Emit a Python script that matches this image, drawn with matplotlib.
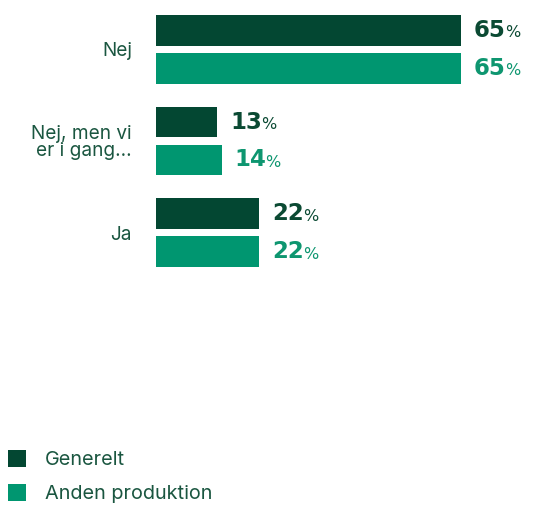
import matplotlib
matplotlib.use("Agg")
import matplotlib.pyplot as plt
import numpy as np

categories = ["Nej", "Nej, men vi\ner i gang...", "Ja"]
series_names = ["Generelt", "Anden produktion"]
generelt = [65, 13, 22]
anden = [65, 14, 22]

bar_colors = ["#034732", "#009670"]
label_colors = ["#0b4a33", "#0e9670"]
text_color = "#1a5640"

W, H = 541, 505
fig = plt.figure(figsize=(W / 100, H / 100), dpi=100)
ax = fig.add_axes([156 / W, 1 - 280 / H, 1 - 156 / W, 280 / H])

y = np.arange(len(categories))
bh = 0.335
off = 0.207
bars1 = ax.barh(y - off, generelt, height=bh, color=bar_colors[0], label=series_names[0])
bars2 = ax.barh(y + off, anden, height=bh, color=bar_colors[1], label=series_names[1])

ax.set_xlim(0, 385 / 4.69)
ax.set_ylim(2.516, -0.538)
for s in ax.spines.values():
    s.set_visible(False)
ax.set_xticks([])
ax.set_yticks(y)
ax.set_yticklabels(categories, fontfamily="Inter", fontsize=13.7, color=text_color,
                   linespacing=0.9)
ax.tick_params(axis="y", length=0, pad=17.3)

for bars, vals, col in [(bars1, generelt, label_colors[0]), (bars2, anden, label_colors[1])]:
    for b, v in zip(bars, vals):
        yc = b.get_y() + b.get_height() / 2
        t = ax.annotate(f"{v}", xy=(v, yc), xytext=(13, 0), textcoords="offset pixels",
                        ha="left", va="center", fontsize=16.5, fontweight="bold",
                        color=col, fontfamily="DejaVu Sans")
        ax.annotate("%", xy=(1, 0), xycoords=t, xytext=(-1, 1.5), textcoords="offset pixels",
                    ha="left", va="bottom", fontsize=11.5, color=col,
                    fontfamily="DejaVu Sans")

leg = fig.legend(handles=[bars1, bars2], labels=series_names, loc="upper left",
                 bbox_to_anchor=(8 / W, 1 - 450 / H), frameon=False,
                 prop={"family": "Inter", "size": 14.3}, handlelength=0.93,
                 handleheight=0.93, handletextpad=0.95, labelspacing=0.75,
                 borderpad=0, borderaxespad=0)
for t in leg.get_texts():
    t.set_color(text_color)

fig.savefig("out.png", dpi=100)
